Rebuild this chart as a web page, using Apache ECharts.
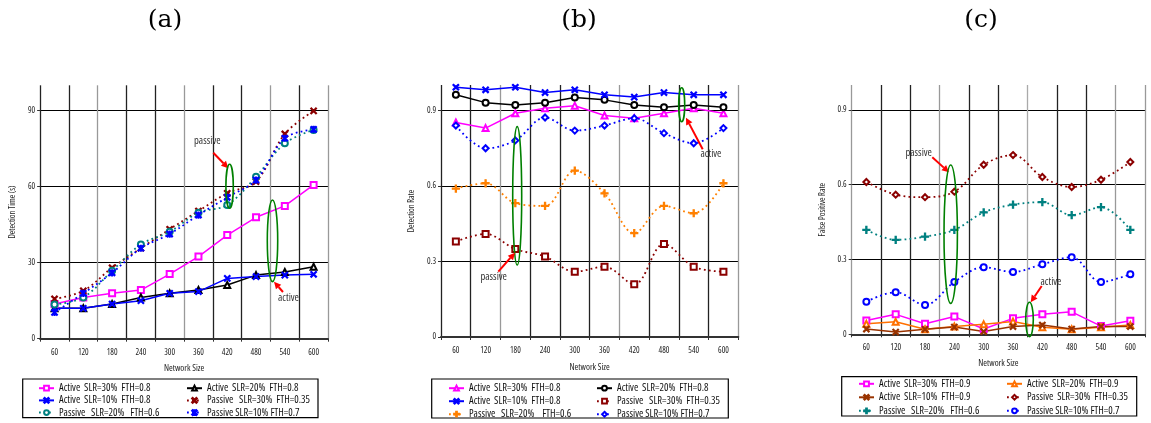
<!DOCTYPE html>
<html>
<head>
<meta charset="utf-8">
<script src="https://cdn.jsdelivr.net/npm/echarts@6/dist/echarts.min.js"></script>
<style>
html,body{margin:0;padding:0;background:#fff;overflow:hidden;}
#wrap{position:relative;width:1151px;height:423px;overflow:hidden;}
.pane{position:absolute;top:0;height:470px;}
</style>
</head>
<body>
<div id="wrap">
  <div id="ca" class="pane" style="left:0;width:383px;"></div>
  <div id="cb" class="pane" style="left:383px;width:385px;"></div>
  <div id="cc" class="pane" style="left:768px;width:383px;"></div>
</div>
<script>
// ---------- DATA ----------
const categories = ['60','120','180','240','300','360','420','480','540','600'];

// (a) Detection Time (s)
const a_act30 = [13.7,16.3,17.9,19.2,25.5,32.4,40.9,47.9,52.4,60.7];
const a_act20 = [12.0,12.0,13.7,16.3,17.9,19.2,21.2,25.1,26.3,28.4];
const a_act10 = [12.0,12.0,13.7,15.0,17.9,18.6,23.8,24.5,25.1,25.4];
const a_pas30 = [15.7,18.9,28.0,35.7,43.2,50.4,57.4,62.0,80.8,89.9];
const a_pas20 = [13.5,16.3,26.8,37.2,42.2,49.7,52.8,63.9,77.1,82.4];
const a_pas10 = [10.4,17.9,26.0,35.7,41.3,48.8,55.8,62.6,79.1,82.6];

// (b) Detection Rate
const b_act30 = [0.851,0.829,0.888,0.908,0.918,0.879,0.868,0.888,0.908,0.888];
const b_act20 = [0.961,0.930,0.921,0.930,0.950,0.941,0.921,0.912,0.921,0.912];
const b_act10 = [0.991,0.981,0.991,0.970,0.981,0.961,0.952,0.970,0.961,0.961];
const b_pas30 = [0.379,0.409,0.349,0.319,0.259,0.279,0.209,0.369,0.279,0.259];
const b_pas20 = [0.589,0.610,0.531,0.520,0.660,0.570,0.412,0.520,0.491,0.610];
const b_pas10 = [0.839,0.749,0.780,0.871,0.819,0.839,0.868,0.809,0.769,0.829];

// (c) False Positive Rate
const c_act30 = [0.055,0.080,0.042,0.071,0.021,0.064,0.080,0.090,0.033,0.054];
const c_act20 = [0.042,0.050,0.020,0.031,0.040,0.051,0.028,0.020,0.028,0.037];
const c_act10 = [0.021,0.009,0.020,0.029,0.011,0.031,0.037,0.021,0.031,0.031];
const c_pas30 = [0.611,0.560,0.550,0.572,0.680,0.719,0.631,0.591,0.620,0.691];
const c_pas20 = [0.419,0.379,0.392,0.419,0.489,0.520,0.530,0.478,0.510,0.419];
const c_pas10 = [0.131,0.169,0.118,0.210,0.269,0.250,0.281,0.309,0.210,0.241];

// axis settings
const a_yAxis = {max:100, interval:30, name:'Detection Time (s)'};
const b_yAxis = {max:1, interval:0.3, name:'Detection Rate'};
const c_yAxis = {max:1, interval:0.3, name:'False Positive Rate'};

// series names
const a_names = ['Active  SLR=30%  FTH=0.8','Active  SLR=20%  FTH=0.8','Active  SLR=10%  FTH=0.8','Passive   SLR=30%  FTH=0.35','Passive   SLR=20%   FTH=0.6','Passive SLR=10% FTH=0.7'];
const b_names = ['Active  SLR=30%  FTH=0.8','Active  SLR=20%  FTH=0.8','Active  SLR=10%  FTH=0.8','Passive   SLR=30%  FTH=0.35','Passive   SLR=20%    FTH=0.6','Passive SLR=10% FTH=0.7'];
const c_names = ['Active  SLR=30%  FTH=0.9','Active  SLR=20%  FTH=0.9','Active  SLR=10%  FTH=0.9','Passive  SLR=30%  FTH=0.35','Passive   SLR=20%   FTH=0.6','Passive SLR=10% FTH=0.7'];

// ---------- STYLE ----------
function tf(size, color){
  return {fontSize:size, fontFamily:'"Open Sans"', fontWeight:'condensed', fontStyle:'normal', color: color || '#222'};
}
const SYM_X = 'path://M0,1.2L1.2,0L5,3.8L8.8,0L10,1.2L6.2,5L10,8.8L8.8,10L5,6.2L1.2,10L0,8.8L3.8,5Z';
const SYM_AST = 'path://M0,1.2L1.2,0L5,3.8L8.8,0L10,1.2L6.2,5L10,8.8L8.8,10L5,6.2L1.2,10L0,8.8L3.8,5Z M4.3,0H5.7V10H4.3Z';
const SYM_PLUS = 'path://M4.2,0H5.8V4.2H10V5.8H5.8V10H4.2V5.8H0V4.2H4.2Z';

function ser(name, data, color, symbol, dotted, size){
  return {
    type:'line', name:name, data:data, color:color,
    symbol:symbol, symbolSize: size || 6,
    smooth: dotted ? 0.35 : false,
    lineStyle:{color:color, width: dotted ? 1.8 : 1.5, type: dotted ? [1.8,3.2] : 'solid'},
    itemStyle:{color:color, borderColor:color, borderWidth:1.2},
    emphasis:{disabled:true},
    animation:false
  };
}

function arrow(x1,y1,x2,y2){
  const a = Math.atan2(y2-y1, x2-x1), L = 7, W = 3.5;
  const c = Math.cos(a), s = Math.sin(a);
  const bx = x2 - L*c, by = y2 - L*s;
  return [
    {type:'line', z:50, shape:{x1:x1,y1:y1,x2:bx,y2:by}, style:{stroke:'#ff0000', lineWidth:2}},
    {type:'polygon', z:50, shape:{points:[[x2,y2],[bx - W*s, by + W*c],[bx + W*s, by - W*c]]}, style:{fill:'#ff0000'}}
  ];
}
function ellipse(cx,cy,rx,ry){
  return {type:'ellipse', z:50, shape:{cx:cx,cy:cy,rx:rx,ry:ry}, style:{fill:'none', stroke:'#008000', lineWidth:1.6}};
}
function label(x,y,t){
  return {type:'text', z:50, x:x, y:y, style:{text:t, font:'normal condensed 10.5px "Open Sans"', fill:'#333', align:'center', verticalAlign:'middle'}};
}

function makeOption(p){
  const legText = Object.assign(tf(10.5, '#111'), {lineHeight:10});
  const legCommon = {orient:'vertical', top:p.leg[2], padding:0, itemWidth:15, itemHeight:6, itemGap:p.leg[3], selectedMode:false, textStyle:legText};
  return {
    animation:false,
    backgroundColor:'#fff',
    grid:{left:p.grid[0], top:p.grid[1], width:p.grid[2], height:p.grid[3], containLabel:false},
    xAxis:{
      type:'category', data:categories, boundaryGap:true,
      axisLine:{show:true, lineStyle:{color:'#333', width:2}},
      axisTick:{show:true, interval:0, length:3, lineStyle:{color:'#333'}},
      axisLabel:Object.assign({interval:0, margin:9}, tf(8.5)),
      splitLine:{show:true, interval:0, lineStyle:{color:p.vcolors, width:1.3}},
      name:'Network Size', nameLocation:'middle', nameGap:p.xNameGap,
      nameTextStyle:tf(9)
    },
    yAxis:{
      type:'value', min:0, max:p.y.max, interval:p.y.interval,
      axisLine:{show:false},
      axisTick:{show:true, length:3, lineStyle:{color:'#333'}},
      axisLabel:Object.assign({margin:5, showMaxLabel:false}, tf(8.5)),
      splitLine:{show:true, showMaxLine:false, showMinLine:false, lineStyle:{color:'#000', width:1}},
      name:p.y.name, nameLocation:'middle', nameGap:14, nameRotate:90,
      nameTextStyle:tf(8.5)
    },
    legend:[
      Object.assign({left:p.leg[0], data:[p.names[0],p.names[2],p.names[4]]}, legCommon),
      Object.assign({left:p.leg[1], data:[p.names[1],p.names[3],p.names[5]]}, legCommon)
    ],
    series:p.series,
    graphic:[
      {type:'text', x:p.title[0], y:20, style:{text:p.title[1], font:'25px "DejaVu Serif", "Liberation Serif", serif', fill:'#000', align:'center', verticalAlign:'middle'}},
      {type:'rect', shape:{x:p.box[0], y:p.box[1], width:p.box[2], height:p.box[3]}, style:{fill:'none', stroke:'#000', lineWidth:1.2}}
    ].concat(p.annot)
  };
}

// ---------- CHART (a) ----------
const chA = echarts.init(document.getElementById('ca'), null, {renderer:'canvas'});
chA.setOption(makeOption({
  grid:[31.7, 85.3, 296.3, 253.4],
  vcolors:['#222','#222','#999','#222','#222','#999','#222','#222','#999','#222','#999'],
  xNameGap:25, y:a_yAxis, names:a_names,
  leg:[38, 186, 382.7, 1.2],
  title:[165, '(a)'],
  box:[22.7, 379, 295.3, 38.7],
  series:[
    ser(a_names[0], a_act30, '#ff00ff', 'emptyRect', false),
    ser(a_names[1], a_act20, '#000000', 'emptyTriangle', false),
    ser(a_names[2], a_act10, '#0000ff', SYM_X, false),
    ser(a_names[3], a_pas30, '#8b0000', SYM_X, true),
    ser(a_names[4], a_pas20, '#008080', 'emptyCircle', true),
    ser(a_names[5], a_pas10, '#0000ff', SYM_AST, true)
  ],
  annot:[
    label(207.3, 140.7, 'passive'),
    ...arrow(213.3, 152.7, 228.3, 168.3),
    ellipse(229.6, 186.3, 3.7, 22),
    ellipse(272.5, 240.8, 5.2, 40.8),
    ...arrow(283, 292, 274, 281.7),
    label(288.5, 298.3, 'active')
  ]
}));

// ---------- CHART (b) ----------
const OB = 383;
const chB = echarts.init(document.getElementById('cb'), null, {renderer:'canvas'});
chB.setOption(makeOption({
  grid:[441-OB, 85, 297.3, 252],
  vcolors:['#222','#222','#999','#222','#222','#222','#999','#222','#222','#222','#999'],
  xNameGap:26, y:b_yAxis, names:b_names,
  leg:[448-OB, 596-OB, 382.7, 2],
  title:[579-OB, '(b)'],
  box:[431.7-OB, 379, 296.6, 39],
  series:[
    ser(b_names[0], b_act30, '#ff00ff', 'emptyTriangle', false),
    ser(b_names[1], b_act20, '#000000', 'emptyCircle', false),
    ser(b_names[2], b_act10, '#0000ff', SYM_X, false),
    ser(b_names[3], b_pas30, '#8b0000', 'emptyRect', true),
    ser(b_names[4], b_pas20, '#ff8000', SYM_PLUS, true, 7),
    ser(b_names[5], b_pas10, '#0000ff', 'emptyDiamond', true)
  ],
  annot:[
    ellipse(517.2-OB, 195.8, 4.5, 69.2),
    ...arrow(498.3-OB, 271.7, 515-OB, 252.7),
    label(493.7-OB, 277.5, 'passive'),
    ellipse(681.7-OB, 104.7, 3, 17),
    ...arrow(702.7-OB, 149.3, 686-OB, 117.7),
    label(711-OB, 154, 'active')
  ]
}));

// ---------- CHART (c) ----------
const OC = 768;
const chC = echarts.init(document.getElementById('cc'), null, {renderer:'canvas'});
chC.setOption(makeOption({
  grid:[851.7-OC, 85, 293.3, 249.3],
  vcolors:['#999','#222','#222','#999','#222','#222','#aaa','#222','#222','#999','#999'],
  xNameGap:25, y:c_yAxis, names:c_names,
  leg:[858-OC, 1006-OC, 378.3, 2.5],
  title:[981-OC, '(c)'],
  box:[841.7-OC, 376.7, 295, 39.3],
  series:[
    ser(c_names[0], c_act30, '#ff00ff', 'emptyRect', false),
    ser(c_names[1], c_act20, '#ff7000', 'emptyTriangle', false),
    ser(c_names[2], c_act10, '#993300', SYM_X, false),
    ser(c_names[3], c_pas30, '#8b0000', 'emptyDiamond', true),
    ser(c_names[4], c_pas20, '#008080', SYM_PLUS, true, 7),
    ser(c_names[5], c_pas10, '#0000ff', 'emptyCircle', true)
  ],
  annot:[
    label(918.7-OC, 152.8, 'passive'),
    ...arrow(932.3-OC, 157.3, 949-OC, 172.3),
    ellipse(950.7-OC, 234.2, 6.7, 69.2),
    label(1051-OC, 281.7, 'active'),
    ...arrow(1041.7-OC, 286, 1030.7-OC, 302.3),
    ellipse(1029.5-OC, 319.5, 3.8, 17.2)
  ]
}));
</script>
</body>
</html>
